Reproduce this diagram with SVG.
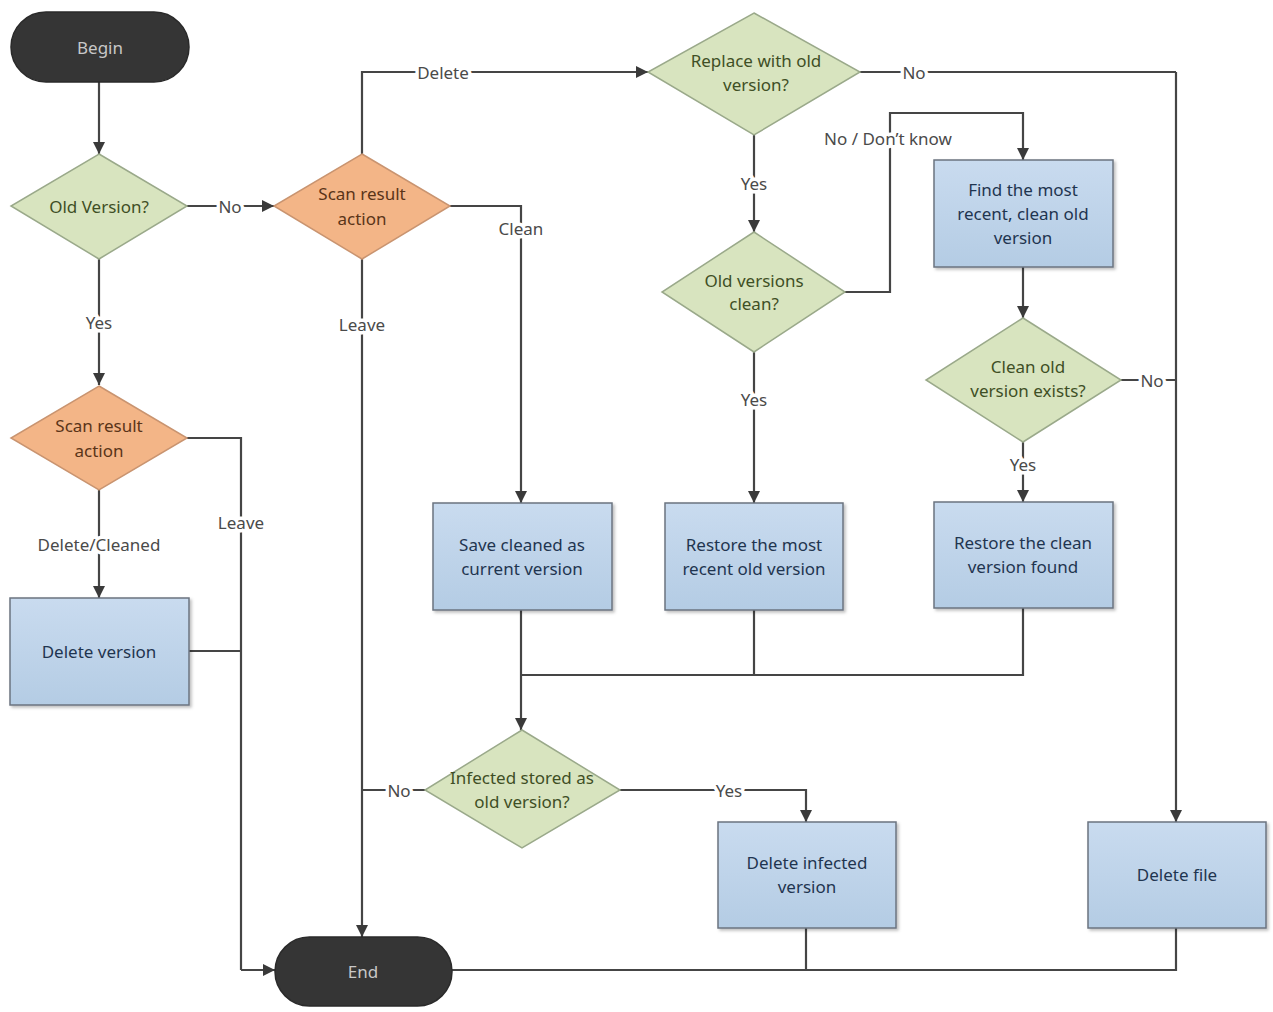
<svg xmlns="http://www.w3.org/2000/svg" width="1273" height="1012" viewBox="0 0 1273 1012">
<style>
text{font-family:"Noto Sans","Open Sans",sans-serif;font-size:17px;text-anchor:middle;dominant-baseline:central}
.term{fill:#353535;stroke:#2a2a2a;stroke-width:1.5}
.termt{fill:#c8c8c8}
.dec{fill:#d8e4bf;stroke:#9aa98a;stroke-width:1.5}
.dect{fill:#3f4f25}
.scan{fill:#f3b587;stroke:#c99470;stroke-width:1.5}
.scant{fill:#5a3418}
.box{fill:url(#bg);stroke:#6b7480;stroke-width:1.5;filter:url(#sh)}
.boxt{fill:#1f3550}
.c{fill:none;stroke:#454545;stroke-width:2.2}
.a{marker-end:url(#ah)}
.lbl{fill:#4a4a4a;paint-order:stroke;stroke:#fff;stroke-width:7px;stroke-linejoin:round}
</style>
<defs>
<linearGradient id="bg" x1="0" y1="0" x2="0" y2="1">
<stop offset="0" stop-color="#c9dbef"/>
<stop offset="1" stop-color="#b4cce4"/>
</linearGradient>
<filter id="sh" x="-10%" y="-10%" width="125%" height="125%">
<feDropShadow dx="2" dy="2" stdDeviation="1.5" flood-color="#000" flood-opacity="0.25"/>
</filter>
<marker id="ah" viewBox="0 0 12 12" refX="12" refY="6" markerWidth="12" markerHeight="12" markerUnits="userSpaceOnUse" orient="auto">
<path d="M0,0 L12,6 L0,12 z" fill="#3a3a3a"/>
</marker>
</defs>

<g id="connectors">
<path class="c a" d="M99,82 V154"/>
<path class="c a" d="M187,206 H274"/>
<path class="c a" d="M99,259 V385"/>
<path class="c a" d="M99,490 V598"/>
<path class="c" d="M187,438 H241 V970"/>
<path class="c" d="M189,651 H241"/>
<path class="c a" d="M241,970 H275"/>
<path class="c a" d="M362,154 V72 H648"/>
<path class="c a" d="M362,259 V937"/>
<path class="c a" d="M450,206 H521 V503"/>
<path class="c" d="M860,72 H1176"/>
<path class="c a" d="M1176,72 V822"/>
<path class="c a" d="M754,135 V232"/>
<path class="c a" d="M845,292 H890 V113 H1023 V160"/>
<path class="c a" d="M754,352 V503"/>
<path class="c a" d="M1023,267 V318"/>
<path class="c" d="M1121,380 H1176"/>
<path class="c a" d="M1023,442 V502"/>
<path class="c a" d="M521,610 V730"/>
<path class="c" d="M754,610 V675"/>
<path class="c" d="M1023,608 V675 H521"/>
<path class="c" d="M425,790 H362"/>
<path class="c a" d="M620,790 H806 V822"/>
<path class="c" d="M806,928 V970"/>
<path class="c" d="M1176,928 V970 H452"/>
<text class="lbl" x="230" y="206">No</text>
<text class="lbl" x="99" y="322">Yes</text>
<text class="lbl" x="241" y="522">Leave</text>
<text class="lbl" x="99" y="544">Delete/Cleaned</text>
<text class="lbl" x="443" y="72">Delete</text>
<text class="lbl" x="521" y="228">Clean</text>
<text class="lbl" x="362" y="324">Leave</text>
<text class="lbl" x="914" y="72">No</text>
<text class="lbl" x="754" y="183">Yes</text>
<text class="lbl" x="888" y="138">No / Don’t know</text>
<text class="lbl" x="754" y="399">Yes</text>
<text class="lbl" x="1152" y="380">No</text>
<text class="lbl" x="1023" y="464">Yes</text>
<text class="lbl" x="399" y="790">No</text>
<text class="lbl" x="729" y="790">Yes</text>
</g>

<g id="begin">
<rect class="term" x="11" y="12" width="178" height="70" rx="35"/>
<text class="termt" x="100" y="47">Begin</text>
</g>
<g id="old-version">
<polygon class="dec" points="99,154 187,206 99,259 11,206"/>
<text class="dect" x="99" y="206">Old Version?</text>
</g>
<g id="scan-top">
<polygon class="scan" points="362,154 450,206 362,259 274,206"/>
<text class="scant" x="362" y="193">Scan result</text>
<text class="scant" x="362" y="218">action</text>
</g>
<g id="scan-left">
<polygon class="scan" points="99,386 187,438 99,490 11,438"/>
<text class="scant" x="99" y="425">Scan result</text>
<text class="scant" x="99" y="450">action</text>
</g>
<g id="delete-version">
<rect class="box" x="10" y="598" width="179" height="107"/>
<text class="boxt" x="99" y="651">Delete version</text>
</g>
<g id="replace">
<polygon class="dec" points="754,13 860,72 754,135 648,72"/>
<text class="dect" x="756" y="60">Replace with old</text>
<text class="dect" x="756" y="84">version?</text>
</g>
<g id="old-clean">
<polygon class="dec" points="754,232 845,292 754,352 662,292"/>
<text class="dect" x="754" y="280">Old versions</text>
<text class="dect" x="754" y="303">clean?</text>
</g>
<g id="find">
<rect class="box" x="934" y="160" width="179" height="107"/>
<text class="boxt" x="1023" y="189">Find the most</text>
<text class="boxt" x="1023" y="213">recent, clean old</text>
<text class="boxt" x="1023" y="237">version</text>
</g>
<g id="clean-exists">
<polygon class="dec" points="1023,318 1121,380 1023,442 926,380"/>
<text class="dect" x="1028" y="366">Clean old</text>
<text class="dect" x="1028" y="390">version exists?</text>
</g>
<g id="save-cleaned">
<rect class="box" x="433" y="503" width="179" height="107"/>
<text class="boxt" x="522" y="544">Save cleaned as</text>
<text class="boxt" x="522" y="568">current version</text>
</g>
<g id="restore-recent">
<rect class="box" x="665" y="503" width="178" height="107"/>
<text class="boxt" x="754" y="544">Restore the most</text>
<text class="boxt" x="754" y="568">recent old version</text>
</g>
<g id="restore-clean">
<rect class="box" x="934" y="502" width="179" height="106"/>
<text class="boxt" x="1023" y="542">Restore the clean</text>
<text class="boxt" x="1023" y="566">version found</text>
</g>
<g id="infected">
<polygon class="dec" points="522,730 620,790 522,848 425,790"/>
<text class="dect" x="522" y="777">Infected stored as</text>
<text class="dect" x="522" y="801">old version?</text>
</g>
<g id="delete-infected">
<rect class="box" x="718" y="822" width="178" height="106"/>
<text class="boxt" x="807" y="862">Delete infected</text>
<text class="boxt" x="807" y="886">version</text>
</g>
<g id="delete-file">
<rect class="box" x="1088" y="822" width="178" height="106"/>
<text class="boxt" x="1177" y="874">Delete file</text>
</g>
<g id="end">
<rect class="term" x="275" y="937" width="177" height="69" rx="34.5"/>
<text class="termt" x="363" y="971">End</text>
</g>
</svg>
